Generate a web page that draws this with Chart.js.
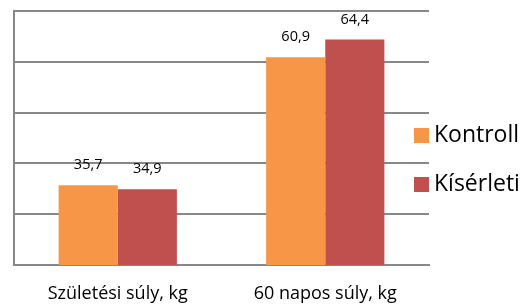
<!DOCTYPE html>
<html><head><meta charset="utf-8">
<style>html,body{margin:0;padding:0;background:#fff}#w{width:531px;height:304px}</style>
<script src="https://cdn.jsdelivr.net/npm/chart.js@4"></script>
</head><body><div id="w"><canvas id="c"></canvas></div>
<script>
const categories = ["Születési súly, kg", "60 napos súly, kg"];
const seriesNames = ["Kontroll", "Kísérleti"];
const kontroll = [35.7, 60.9];
const kiserleti = [34.9, 64.4];
const valueLabels = [["35,7", "60,9"], ["34,9", "64,4"]];
const colors = ["#F79646", "#C0504D"];
const FONT = "'Open Sans', sans-serif";

const labelPlugin = {
  id: 'vlabels',
  afterDatasetsDraw(chart) {
    const ctx = chart.ctx;
    ctx.save();
    ctx.font = "14.5px " + FONT;
    ctx.fillStyle = "#000";
    ctx.textAlign = "center";
    ctx.textBaseline = "middle";
    chart.data.datasets.forEach((ds, di) => {
      chart.getDatasetMeta(di).data.forEach((bar, i) => {
        ctx.fillText(valueLabels[di][i], bar.x, bar.y - 20);
      });
    });
    ctx.restore();
  }
};
const legendPlugin = {
  id: 'customLegend',
  afterDraw(chart) {
    const ctx = chart.ctx;
    ctx.save();
    ctx.font = "23px " + FONT;
    ctx.textBaseline = "middle";
    ctx.textAlign = "left";
    const ys = [135, 184];
    chart.data.datasets.forEach((ds, di) => {
      ctx.fillStyle = ds.backgroundColor;
      ctx.fillRect(414, ys[di] - 7, 15, 15);
      ctx.fillStyle = "#000";
      ctx.fillText(ds.label, 434, ys[di]);
    });
    ctx.restore();
  }
};

new Chart(document.getElementById('c'), {
  type: 'bar',
  data: {
    labels: categories,
    datasets: [
      {label: seriesNames[0], data: kontroll, backgroundColor: colors[0]},
      {label: seriesNames[1], data: kiserleti, backgroundColor: colors[1]}
    ]
  },
  options: {
    responsive: true, maintainAspectRatio: false, animation: false,
    categoryPercentage: 0.57, barPercentage: 1,
    layout: {padding: {left: 14, right: 102, top: 11, bottom: 0}},
    plugins: {legend: {display: false}, tooltip: {enabled: false}},
    scales: {
      x: {
        afterFit: s => { s.height = 39; },
        grid: {display: false},
        border: {display: true, color: "#888", width: 2},
        ticks: {font: {family: FONT, size: 18}, color: "#000", padding: 10}
      },
      y: {
        min: 20, max: 70,
        ticks: {display: false, stepSize: 10},
        grid: {color: "#888", lineWidth: 2, drawTicks: false},
        border: {display: true, color: "#888", width: 2}
      }
    }
  },
  plugins: [labelPlugin, legendPlugin]
});
</script></body></html>
